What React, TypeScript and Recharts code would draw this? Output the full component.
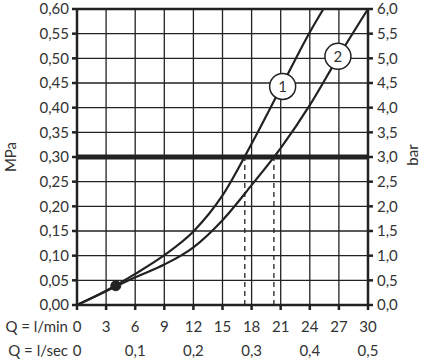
import { LineChart, Line, XAxis, YAxis, CartesianGrid, ReferenceLine, ReferenceDot } from "recharts";

const Q_TICKS = [0, 3, 6, 9, 12, 15, 18, 21, 24, 27, 30];
const SEC_POS = [0, 6, 12, 18, 24, 30];
const SEC_LABELS = ["0", "0,1", "0,2", "0,3", "0,4", "0,5"];
const MPA_TICKS = [0, 0.05, 0.1, 0.15, 0.2, 0.25, 0.3, 0.35, 0.4, 0.45, 0.5, 0.55, 0.6];
const BAR_TICKS = [0, 0.5, 1, 1.5, 2, 2.5, 3, 3.5, 4, 4.5, 5, 5.5, 6];

const CURVE_1 = [
  { q: 0, p: 0 },
  { q: 3, p: 0.029 },
  { q: 6, p: 0.063 },
  { q: 9, p: 0.101 },
  { q: 12, p: 0.149 },
  { q: 15, p: 0.222 },
  { q: 18, p: 0.327 },
  { q: 21, p: 0.44 },
  { q: 24, p: 0.553 },
  { q: 25.4, p: 0.6 },
];

const CURVE_2 = [
  { q: 0, p: 0 },
  { q: 3, p: 0.028 },
  { q: 6, p: 0.056 },
  { q: 9, p: 0.082 },
  { q: 12, p: 0.117 },
  { q: 15, p: 0.172 },
  { q: 18, p: 0.243 },
  { q: 21, p: 0.318 },
  { q: 24, p: 0.405 },
  { q: 27, p: 0.505 },
  { q: 30, p: 0.6 },
];

const LIMIT = 0.3;
const CROSS_Q = [17.3, 20.3];
const START_DOT = { q: 4.0, p: 0.039 };
const CURVE_LABELS = [
  { q: 21.2, p: 0.443, text: "1" },
  { q: 26.9, p: 0.504, text: "2" },
];

const INK = "#222";
const TEXT = "#333";
const FONT = "Lato, 'Open Sans', sans-serif";

const comma = (v: number, d: number) => v.toFixed(d).replace(".", ",");

// same curve in bar (1 MPa = 10 bar), only to give the right axis a series
const CURVE_2_BAR = CURVE_2.map((d) => ({ q: d.q, b: d.p * 10 }));

function QTick(props: any) {
  const { x, y, payload } = props;
  const v = payload.value;
  const si = SEC_POS.indexOf(v);
  return (
    <g fontFamily={FONT} fontSize={15} fill={TEXT}>
      <text x={x} y={y + 20} textAnchor="middle">{v}</text>
      {si >= 0 && (
        <text x={x} y={y + 44} textAnchor="middle">{SEC_LABELS[si]}</text>
      )}
      {v === 0 && (
        <>
          <text x={x - 9} y={y + 20} textAnchor="end">Q = l/min</text>
          <text x={x - 9} y={y + 44} textAnchor="end">Q = l/sec</text>
        </>
      )}
    </g>
  );
}

export default function App() {
  return (
    <div style={{ position: "absolute", left: 0, top: 0, background: "#fff" }}>
      <LineChart width={423} height={363} margin={{ top: 9, right: 0, left: 0, bottom: 0 }}>
        <CartesianGrid yAxisId="mpa" stroke={INK} strokeWidth={1.3} />
        <XAxis
          dataKey="q"
          type="number"
          domain={[0, 30]}
          ticks={Q_TICKS}
          height={58}
          tickSize={5}
          stroke={INK}
          strokeWidth={2.5}
          tick={<QTick />}
          allowDataOverflow
        />
        <YAxis
          yAxisId="mpa"
          domain={[0, 0.6]}
          ticks={MPA_TICKS}
          width={77}
          tickSize={5}
          tickMargin={3}
          stroke={INK}
          strokeWidth={2.5}
          tick={{ fill: TEXT, fontSize: 15, fontFamily: FONT }}
          tickFormatter={(v: number) => comma(v, 2)}
          label={() => (
            <text
              x={12}
              y={157}
              transform="rotate(-90 12 157)"
              textAnchor="middle"
              dominantBaseline="middle"
              fontSize={15}
              fontFamily={FONT}
              fill={TEXT}
            >
              MPa
            </text>
          )}
        />
        <YAxis
          yAxisId="bar"
          orientation="right"
          domain={[0, 6]}
          ticks={BAR_TICKS}
          width={55}
          tickSize={5}
          tickMargin={4}
          stroke={INK}
          strokeWidth={2.5}
          tick={{ fill: TEXT, fontSize: 15, fontFamily: FONT }}
          tickFormatter={(v: number) => comma(v, 1)}
          allowDataOverflow
          label={() => (
            <text
              x={414}
              y={155}
              transform="rotate(-90 414 155)"
              textAnchor="middle"
              dominantBaseline="middle"
              fontSize={15}
              fontFamily={FONT}
              fill={TEXT}
            >
              bar
            </text>
          )}
        />
        <ReferenceLine yAxisId="mpa" y={0.6} stroke={INK} strokeWidth={2.5} />
        {CROSS_Q.map((q) => (
          <ReferenceLine
            key={q}
            yAxisId="mpa"
            segment={[{ x: q, y: 0 }, { x: q, y: LIMIT }]}
            stroke={INK}
            strokeWidth={1.3}
            strokeDasharray="5 4"
          />
        ))}
        <ReferenceLine yAxisId="mpa" y={LIMIT} stroke={INK} strokeWidth={5} />
        <Line
          yAxisId="bar"
          data={CURVE_2_BAR}
          dataKey="b"
          type="monotone"
          stroke="none"
          dot={false}
          activeDot={false}
          isAnimationActive={false}
        />
        <Line
          yAxisId="mpa"
          data={CURVE_1}
          dataKey="p"
          type="monotone"
          stroke={INK}
          strokeWidth={2.2}
          dot={false}
          isAnimationActive={false}
        />
        <Line
          yAxisId="mpa"
          data={CURVE_2}
          dataKey="p"
          type="monotone"
          stroke={INK}
          strokeWidth={2.2}
          dot={false}
          isAnimationActive={false}
        />
        <ReferenceDot yAxisId="mpa" x={START_DOT.q} y={START_DOT.p} r={5} fill={INK} stroke={INK} />
        {CURVE_LABELS.map((c) => (
          <ReferenceDot
            key={c.text}
            yAxisId="mpa"
            x={c.q}
            y={c.p}
            r={13}
            fill="#fff"
            stroke={INK}
            strokeWidth={1.5}
            label={{ value: c.text, position: "center", fill: TEXT, fontSize: 15, fontFamily: FONT }}
          />
        ))}
      </LineChart>
    </div>
  );
}
